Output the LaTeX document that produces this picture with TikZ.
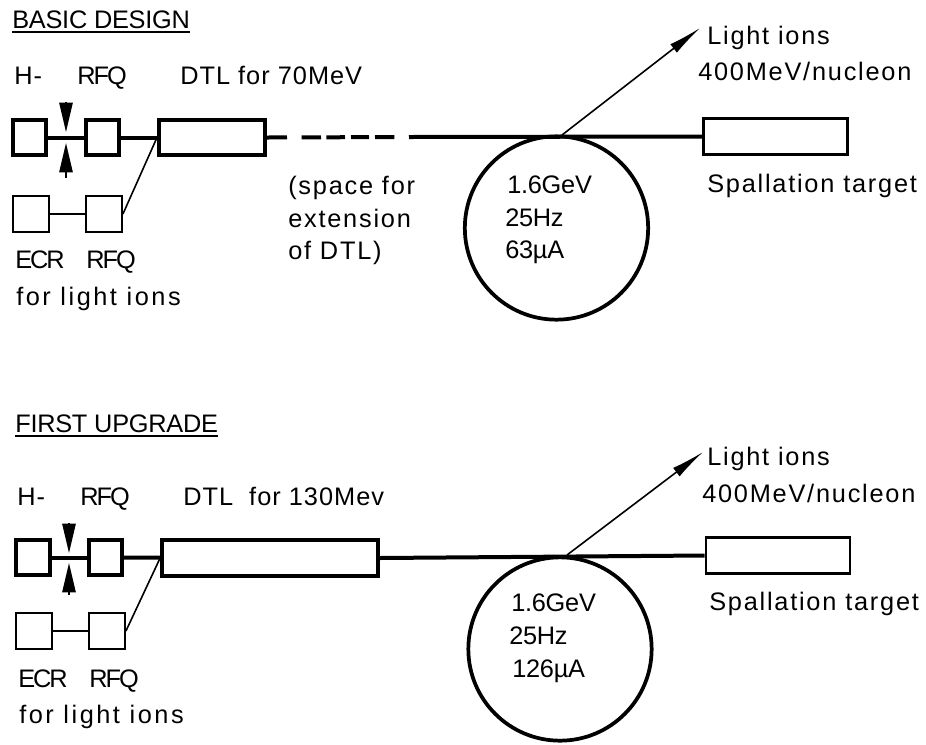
\documentclass[tikz,border=0pt]{standalone}
\usepackage{fontspec}
\setmainfont{Liberation Sans}
\newfontfamily\xwidefont[LetterSpace=10]{Liberation Sans}
\newfontfamily\widefont[LetterSpace=7]{Liberation Sans}
\newfontfamily\midfont[LetterSpace=4]{Liberation Sans}
\newfontfamily\plainfont[LetterSpace=-1]{Liberation Sans}
\newfontfamily\tightfont[LetterSpace=-8]{Liberation Sans}
\usetikzlibrary{arrows.meta,positioning,calc}
\tikzset{
  lab/.style={inner sep=0pt, anchor=base west, font=\fontsize{19pt}{21pt}\widefont},
  xlab/.style={lab, font=\fontsize{19pt}{21pt}\xwidefont},
  midlab/.style={lab, font=\fontsize{19pt}{21pt}\midfont},
  plainlab/.style={lab, font=\fontsize{19pt}{21pt}\plainfont},
  tightlab/.style={lab, font=\fontsize{19pt}{21pt}\tightfont},
  heavybox/.style={draw, line width=2.8pt, minimum width=#1, minimum height=26.5pt, inner sep=0pt},
  heavybox/.default=25pt,
  lightbox/.style={draw, line width=1.4pt, minimum width=27pt, minimum height=27pt, inner sep=0pt},
  targetbox/.style={draw, line width=2.2pt, minimum width=108pt, minimum height=27.5pt, inner sep=0pt},
  beam/.style={line width=3pt},
  thinline/.style={line width=1.2pt},
  wedge/.style={-{Triangle[length=22pt,width=10pt]}, line width=1.2pt},
  ejectarrow/.style={thinline, -{Latex[length=25pt,width=8pt]}},
  ring/.style={draw, circle, line width=2.8pt, inner sep=0pt, minimum size=137.5pt}
}
\begin{document}
\begin{tikzpicture}[x=0.75pt, y=-0.75pt]
    \useasboundingbox (0,0) rectangle (926,744);
    % Basic design
    \node[plainlab] (title1) at (12,28) {BASIC DESIGN};
    \draw[thinline] ([yshift=-3pt]title1.base west) coordinate (u1) -- (u1 -| title1.base east);
    \node[midlab] (hlab1) at (14,84) {H-};
    \node[tightlab] (rfqlab1) at (77,84) {RFQ};
    \node[midlab] (dtllab1) at (180,84) {DTL for 70MeV};
    \node[heavybox] (src1) at (29.5,137.5) {};
    \node[heavybox] (rfq1) at (102.5,137.5) {};
    \node[heavybox=79.7pt] (dtl1) at (212,137.5) {};
    \node[lightbox] (ecr1) at (31,214) {};
    \node[lightbox] (rfqb1) at (104,214) {};
    \node[ring] (ring1) at (556.5,228) {};
    \node[targetbox] (target1) at (775.5,136.5) {};
    % Beam stoppers and free ends
    \coordinate (top1) at (66,102);
    \coordinate (bot1) at (66,178);
    \coordinate (gapa1) at (66,132);
    \coordinate (gapb1) at (66,143);
    \coordinate (dash1) at (409,137);
    \coordinate (tip1) at (700,28);
    \coordinate (foot1) at (562,135);
    \draw[beam] (src1) -- (rfq1);
    \draw[beam] (rfq1) -- (dtl1);
    \draw[beam, dash pattern=on 15pt off 11pt on 14.5pt off 4pt on 14pt off 4.5pt on 13.5pt off 4.5pt on 14.5pt off 11pt] (dtl1.east) -- (dash1);
    \draw[beam] (dash1) -- (target1.west);
    \draw[thinline] (ecr1) -- (rfqb1);
    \draw[thinline] (rfqb1.east) -- (dtl1.west);
    \draw[ejectarrow] (foot1) -- (tip1);
    \draw[wedge] (top1) -- (gapa1);
    \draw[wedge] (bot1) -- (gapb1);
    \node[lab] (ionlab1) at (707,44) {Light ions};
    \node[lab] (evlab1) at (698,80) {400MeV/nucleon};
    \node[lab] (spacea) at (288,194) {(space for};
    \node[lab] (spaceb) at (288,227) {extension};
    \node[lab] (spacec) at (288,259) {of DTL)};
    \node[plainlab] (ga1) at (507,193) {1.6GeV};
    \node[plainlab] (gb1) at (505,226) {25Hz};
    \node[plainlab] (gc1) at (505,258) {63µA};
    \node[lab] (tglab1) at (707,192) {Spallation target};
    \node[tightlab] (ecrlab1) at (15,268) {ECR};
    \node[tightlab] (rfqlabb1) at (86,268) {RFQ};
    \node[xlab] (forlab1) at (16,305) {for light ions};
    % First upgrade
    \node[plainlab] (title2) at (15,432) {FIRST UPGRADE};
    \draw[thinline] ([yshift=-3pt]title2.base west) coordinate (u2) -- (u2 -| title2.base east);
    \node[midlab] (hlab2) at (17,505) {H-};
    \node[tightlab] (rfqlab2) at (80,505) {RFQ};
    \node[midlab] (dtllab2) at (183,505) {DTL\ \ for 130Mev};
    \node[heavybox] (src2) at (33,557.5) {};
    \node[heavybox] (rfq2) at (105.5,557.5) {};
    \node[heavybox=162pt] (dtl2) at (270,558) {};
    \node[lightbox] (ecr2) at (34,631) {};
    \node[lightbox] (rfqb2) at (107,631) {};
    \node[ring] (ring2) at (560,649) {};
    \node[targetbox] (target2) at (778,555.5) {};
    \coordinate (top2) at (69,523);
    \coordinate (bot2) at (69,595);
    \coordinate (gapa2) at (69,553);
    \coordinate (gapb2) at (69,563);
    \coordinate (tip2) at (703,452);
    \coordinate (foot2) at (567,555);
    \draw[beam] (src2) -- (rfq2);
    \draw[beam] (rfq2) -- (dtl2);
    \draw[beam] (dtl2.east) -- (target2.west);
    \draw[thinline] (ecr2) -- (rfqb2);
    \draw[thinline] (rfqb2.east) -- (dtl2.west);
    \draw[ejectarrow] (foot2) -- (tip2);
    \draw[wedge] (top2) -- (gapa2);
    \draw[wedge] (bot2) -- (gapb2);
    \node[lab] (ionlab2) at (707,465) {Light ions};
    \node[lab] (evlab2) at (702,502) {400MeV/nucleon};
    \node[plainlab] (ga2) at (511,611) {1.6GeV};
    \node[plainlab] (gb2) at (509,644) {25Hz};
    \node[plainlab] (gc2) at (512,677) {126µA};
    \node[lab] (tglab2) at (709,610) {Spallation target};
    \node[tightlab] (ecrlab2) at (18,687) {ECR};
    \node[tightlab] (rfqlabb2) at (89,687) {RFQ};
    \node[xlab] (forlab2) at (19,723) {for light ions};
\end{tikzpicture}
\end{document}
